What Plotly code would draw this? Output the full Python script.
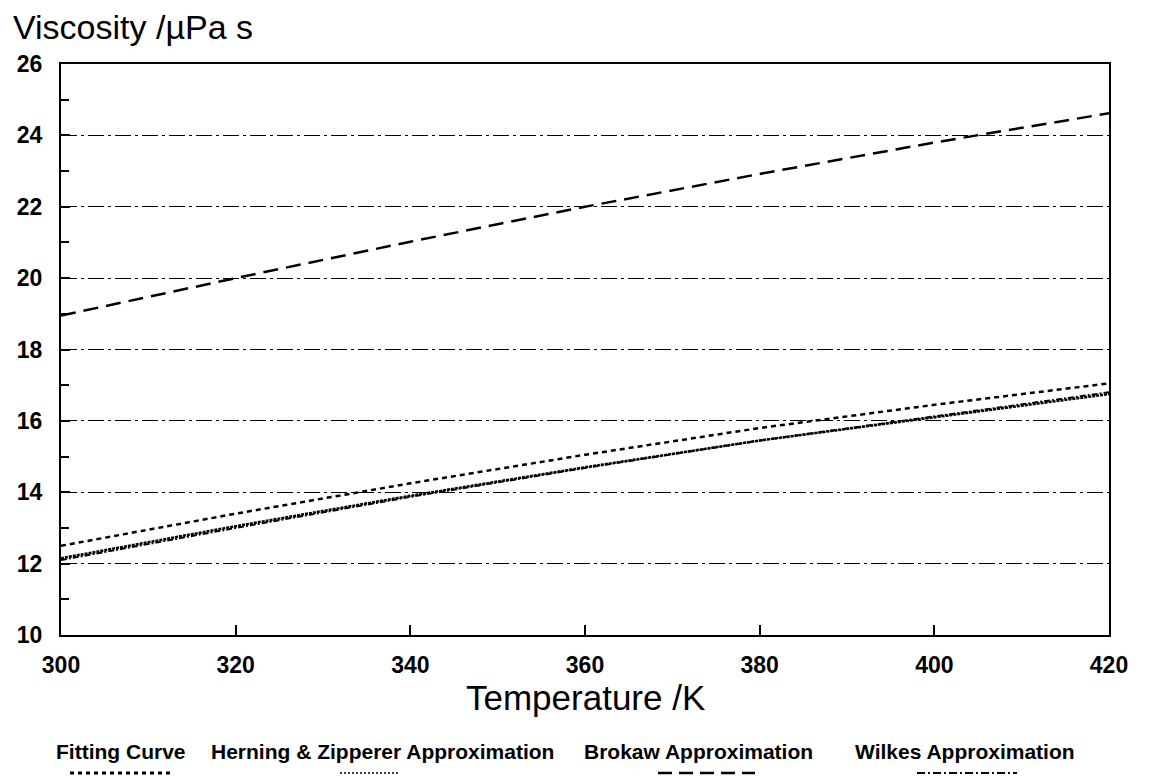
import plotly.graph_objects as go

# ---- data ----
temperature = [300, 320, 340, 360, 380, 400, 420]
fitting_curve = [12.15, 13.05, 13.9, 14.7, 15.45, 16.1, 16.75]
herning_zipperer = [12.5, 13.4, 14.25, 15.05, 15.8, 16.45, 17.05]
brokaw = [18.95, 20.0, 21.02, 22.0, 22.92, 23.8, 24.62]
wilkes = [12.1, 13.0, 13.87, 14.68, 15.45, 16.12, 16.8]

x_ticks = [300, 320, 340, 360, 380, 400, 420]
y_ticks = [10, 12, 14, 16, 18, 20, 22, 24, 26]

legend_labels = ["Fitting Curve", "Herning & Zipperer Approximation",
                 "Brokaw Approximation", "Wilkes Approximation"]

FONT = "Liberation Sans, Arial, Helvetica, sans-serif"
PW, PH, L, T = 1048, 571, 61, 64  # plot area size / offsets in px


def px(x):
    return (x - L) / PW


def py(y):
    return (T + PH - y) / PH


fig = go.Figure()

fig.add_trace(go.Scatter(x=temperature, y=wilkes, mode="lines",
                         line=dict(color="black", width=2, dash="6px,2px,2px,2px"),
                         name=legend_labels[3], showlegend=False))
fig.add_trace(go.Scatter(x=temperature, y=fitting_curve, mode="lines",
                         line=dict(color="black", width=2.5, dash="3px,1px"),
                         name=legend_labels[0], showlegend=False))
fig.add_trace(go.Scatter(x=temperature, y=herning_zipperer, mode="lines",
                         line=dict(color="black", width=2.5, dash="5px,4px"),
                         name=legend_labels[1], showlegend=False))
fig.add_trace(go.Scatter(x=temperature, y=brokaw, mode="lines",
                         line=dict(color="black", width=2.5, dash="15px,8px"),
                         name=legend_labels[2], showlegend=False))

fig.update_xaxes(
    range=[300, 420], tickvals=x_ticks, ticktext=[str(v) for v in x_ticks],
    showline=True, linecolor="black", linewidth=2, mirror=True,
    ticks="inside", ticklen=10, tickwidth=1.5, tickcolor="black",
    showgrid=False, zeroline=False,
    tickfont=dict(family=FONT, size=23, color="black", weight="bold"),
    ticklabelstandoff=8,
)
fig.update_yaxes(
    range=[10, 26], tickvals=y_ticks, ticktext=[str(v) for v in y_ticks],
    showline=True, linecolor="black", linewidth=2, mirror=True,
    ticks="inside", ticklen=9, tickwidth=1.5, tickcolor="black",
    minor=dict(dtick=1, tick0=11, ticks="inside", ticklen=8, tickwidth=1.5,
               tickcolor="black", showgrid=False),
    showgrid=True, gridcolor="black", gridwidth=1, griddash="16px,4px,3px,4px",
    zeroline=False,
    tickfont=dict(family=FONT, size=23, color="black", weight="bold"),
    ticklabelstandoff=12,
)

annotations = [
    dict(text="Viscosity /µPa s", xref="paper", yref="paper", x=px(11), y=py(27),
         xanchor="left", yanchor="middle", showarrow=False,
         font=dict(family=FONT, size=34, color="black")),
    dict(text="Temperature /K", xref="paper", yref="paper", x=0.5, y=py(697),
         xanchor="center", yanchor="middle", showarrow=False,
         font=dict(family=FONT, size=35, color="black")),
]

legend_centers = [121, 382, 698, 965]
sample_spans = [(70, 170), (340, 400), (658, 755), (917, 1017)]
sample_styles = [dict(width=3, dash="4px,4px"), dict(width=1.5, dash="2px,2px"),
                 dict(width=2.5, dash="14px,7px"), dict(width=2, dash="8px,3px,2px,3px")]
shapes = []
for lab, cx, (x0, x1), st in zip(legend_labels, legend_centers, sample_spans, sample_styles):
    annotations.append(dict(text=lab, xref="paper", yref="paper",
                            x=px(cx), y=py(752),
                            xanchor="center", yanchor="middle", showarrow=False,
                            font=dict(family=FONT, size=21, color="black", weight="bold")))
    shapes.append(dict(type="line", xref="paper", yref="paper",
                       x0=px(x0), x1=px(x1), y0=py(773), y1=py(773),
                       line=dict(color="black", **st)))

fig.update_layout(
    width=1153, height=779,
    margin=dict(l=L, r=1153 - L - PW, t=T, b=779 - T - PH),
    paper_bgcolor="white", plot_bgcolor="white",
    showlegend=False,
    annotations=annotations, shapes=shapes,
    font=dict(family=FONT, color="black"),
)

fig.write_html("out.html")
